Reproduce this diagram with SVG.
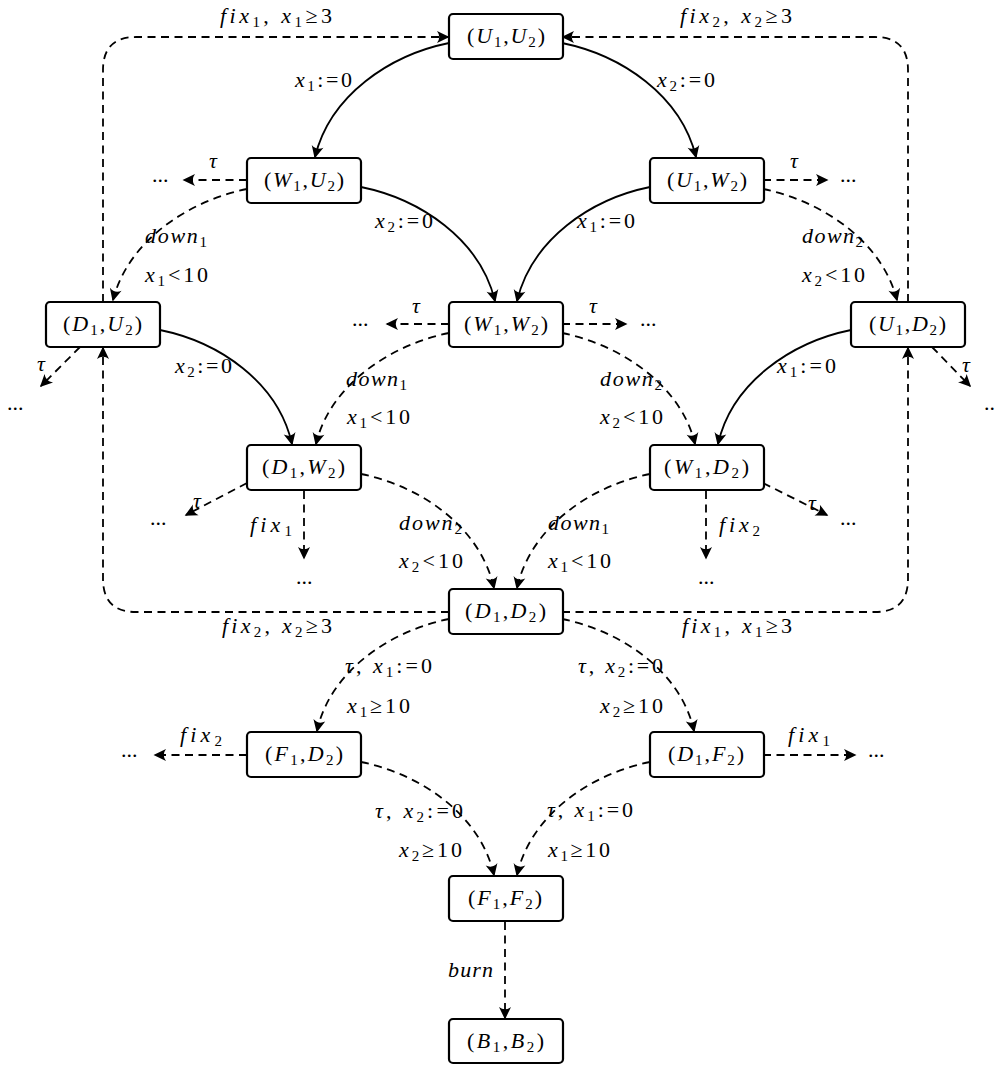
<svg xmlns="http://www.w3.org/2000/svg" width="995" height="1065" viewBox="0 0 995 1065" font-family="'Liberation Serif', 'DejaVu Serif', serif">
<style>
.e{fill:none;stroke:#000;stroke-width:1.8}
.d{stroke-dasharray:8 5.5}
.nd rect{fill:#fff;stroke:#000;stroke-width:2.2}
text{font-family:'Liberation Serif','DejaVu Serif',serif;font-size:22px;fill:#000}
.i{font-style:italic}
.sb{font-size:15px}
</style>
<defs>
<marker id="ah" viewBox="-13 -7 16 14" markerWidth="16" markerHeight="14" refX="0" refY="0" orient="auto" markerUnits="userSpaceOnUse"><path d="M1.5,0 L-11,-6 Q-6.5,0 -11,6 Z" fill="#000" stroke="none"/></marker>
</defs>
<rect width="995" height="1065" fill="#fff"/>
<g id="connectors">
<path class="e" d="M449,43 C390,55 330,95 315,157" marker-end="url(#ah)"/>
<path class="e" d="M562,43 C621,55 681,95 696,157" marker-end="url(#ah)"/>
<path class="e" d="M361,187 C420,199 480,239 495,301" marker-end="url(#ah)"/>
<path class="e" d="M650,187 C591,199 532,239 517,301" marker-end="url(#ah)"/>
<path class="e" d="M160,330 C219,342 278,382 292,444" marker-end="url(#ah)"/>
<path class="e" d="M851,330 C792,342 732,382 718,444" marker-end="url(#ah)"/>
<path class="e d" d="M247,189 C188,201 128,241 113,300" marker-end="url(#ah)"/>
<path class="e d" d="M763,189 C822,201 882,241 897,300" marker-end="url(#ah)"/>
<path class="e d" d="M449,333 C390,345 330,385 316,444" marker-end="url(#ah)"/>
<path class="e d" d="M562,333 C621,345 681,385 695,444" marker-end="url(#ah)"/>
<path class="e d" d="M361,474 C420,486 480,526 494,588" marker-end="url(#ah)"/>
<path class="e d" d="M650,474 C591,486 531,526 517,588" marker-end="url(#ah)"/>
<path class="e d" d="M449,619 C390,631 330,671 317,731" marker-end="url(#ah)"/>
<path class="e d" d="M562,619 C621,631 681,671 694,731" marker-end="url(#ah)"/>
<path class="e d" d="M361,762 C420,774 480,814 494,875" marker-end="url(#ah)"/>
<path class="e d" d="M650,762 C591,774 531,814 517,875" marker-end="url(#ah)"/>
<path class="e d" d="M505,922 L505,1018" marker-end="url(#ah)"/>
<path class="e d" d="M103,302 L103,70 Q103,37 136,37 L448,37" marker-end="url(#ah)"/>
<path class="e d" d="M908,302 L908,70 Q908,37 875,37 L563,37" marker-end="url(#ah)"/>
<path class="e d" d="M449,612 L136,612 Q103,612 103,579 L103,348" marker-end="url(#ah)"/>
<path class="e d" d="M562,612 L875,612 Q908,612 908,579 L908,348" marker-end="url(#ah)"/>
<path class="e d" d="M247,180 L184,180" marker-end="url(#ah)"/>
<path class="e d" d="M763,180 L827,180" marker-end="url(#ah)"/>
<path class="e d" d="M449,324 L387,324" marker-end="url(#ah)"/>
<path class="e d" d="M562,324 L626,324" marker-end="url(#ah)"/>
<path class="e d" d="M80,347 L41,386" marker-end="url(#ah)"/>
<path class="e d" d="M932,347 L970,386" marker-end="url(#ah)"/>
<path class="e d" d="M247,483 L186,515" marker-end="url(#ah)"/>
<path class="e d" d="M304,491 L304,558" marker-end="url(#ah)"/>
<path class="e d" d="M763,483 L827,515" marker-end="url(#ah)"/>
<path class="e d" d="M706,491 L706,558" marker-end="url(#ah)"/>
<path class="e d" d="M247,755 L155,755" marker-end="url(#ah)"/>
<path class="e d" d="M763,755 L855,755" marker-end="url(#ah)"/>
</g>
<g id="labels">
<text x="220" y="23" textLength="112"><tspan class="i">fix</tspan><tspan class="sb" dy="4">1</tspan><tspan dy="-4">, </tspan><tspan class="i">x</tspan><tspan class="sb" dy="4">1</tspan><tspan dy="-4">≥3</tspan></text>
<text x="680" y="23" textLength="112"><tspan class="i">fix</tspan><tspan class="sb" dy="4">2</tspan><tspan dy="-4">, </tspan><tspan class="i">x</tspan><tspan class="sb" dy="4">2</tspan><tspan dy="-4">≥3</tspan></text>
<text x="295" y="87" textLength="57"><tspan class="i">x</tspan><tspan class="sb" dy="4">1</tspan><tspan dy="-4">:=0</tspan></text>
<text x="657" y="87" textLength="58"><tspan class="i">x</tspan><tspan class="sb" dy="4">2</tspan><tspan dy="-4">:=0</tspan></text>
<text x="209" y="168" class="i">τ</text>
<text x="790" y="168" class="i">τ</text>
<text x="375" y="228" textLength="58"><tspan class="i">x</tspan><tspan class="sb" dy="4">2</tspan><tspan dy="-4">:=0</tspan></text>
<text x="577" y="228" textLength="58"><tspan class="i">x</tspan><tspan class="sb" dy="4">1</tspan><tspan dy="-4">:=0</tspan></text>
<text x="145" y="243" textLength="62"><tspan class="i">down</tspan><tspan class="sb" dy="4">1</tspan></text>
<text x="145" y="282" textLength="63"><tspan class="i">x</tspan><tspan class="sb" dy="4">1</tspan><tspan dy="-4">&lt;10</tspan></text>
<text x="802" y="243" textLength="61"><tspan class="i">down</tspan><tspan class="sb" dy="4">2</tspan></text>
<text x="802" y="282" textLength="63"><tspan class="i">x</tspan><tspan class="sb" dy="4">2</tspan><tspan dy="-4">&lt;10</tspan></text>
<text x="412" y="313" class="i">τ</text>
<text x="589" y="313" class="i">τ</text>
<text x="175" y="373" textLength="57"><tspan class="i">x</tspan><tspan class="sb" dy="4">2</tspan><tspan dy="-4">:=0</tspan></text>
<text x="777" y="373" textLength="59"><tspan class="i">x</tspan><tspan class="sb" dy="4">1</tspan><tspan dy="-4">:=0</tspan></text>
<text x="37" y="371" class="i">τ</text>
<text x="962" y="372" class="i">τ</text>
<text x="346" y="386" textLength="61"><tspan class="i">down</tspan><tspan class="sb" dy="4">1</tspan></text>
<text x="347" y="424" textLength="63"><tspan class="i">x</tspan><tspan class="sb" dy="4">1</tspan><tspan dy="-4">&lt;10</tspan></text>
<text x="600" y="386" textLength="62"><tspan class="i">down</tspan><tspan class="sb" dy="4">2</tspan></text>
<text x="600" y="424" textLength="63"><tspan class="i">x</tspan><tspan class="sb" dy="4">2</tspan><tspan dy="-4">&lt;10</tspan></text>
<text x="193" y="508" class="i">τ</text>
<text x="250" y="532" textLength="42"><tspan class="i">fix</tspan><tspan class="sb" dy="4">1</tspan></text>
<text x="399" y="530" textLength="63"><tspan class="i">down</tspan><tspan class="sb" dy="4">2</tspan></text>
<text x="399" y="568" textLength="64"><tspan class="i">x</tspan><tspan class="sb" dy="4">2</tspan><tspan dy="-4">&lt;10</tspan></text>
<text x="548" y="530" textLength="61"><tspan class="i">down</tspan><tspan class="sb" dy="4">1</tspan></text>
<text x="548" y="568" textLength="63"><tspan class="i">x</tspan><tspan class="sb" dy="4">1</tspan><tspan dy="-4">&lt;10</tspan></text>
<text x="719" y="532" textLength="41"><tspan class="i">fix</tspan><tspan class="sb" dy="4">2</tspan></text>
<text x="808" y="510" class="i">τ</text>
<text x="222" y="633" textLength="110"><tspan class="i">fix</tspan><tspan class="sb" dy="4">2</tspan><tspan dy="-4">, </tspan><tspan class="i">x</tspan><tspan class="sb" dy="4">2</tspan><tspan dy="-4">≥3</tspan></text>
<text x="682" y="633" textLength="110"><tspan class="i">fix</tspan><tspan class="sb" dy="4">1</tspan><tspan dy="-4">, </tspan><tspan class="i">x</tspan><tspan class="sb" dy="4">1</tspan><tspan dy="-4">≥3</tspan></text>
<text x="345" y="673" textLength="87"><tspan class="i">τ</tspan><tspan>, </tspan><tspan class="i">x</tspan><tspan class="sb" dy="4">1</tspan><tspan dy="-4">:=0</tspan></text>
<text x="347" y="713" textLength="63"><tspan class="i">x</tspan><tspan class="sb" dy="4">1</tspan><tspan dy="-4">≥10</tspan></text>
<text x="578" y="673" textLength="85"><tspan class="i">τ</tspan><tspan>, </tspan><tspan class="i">x</tspan><tspan class="sb" dy="4">2</tspan><tspan dy="-4">:=0</tspan></text>
<text x="600" y="713" textLength="63"><tspan class="i">x</tspan><tspan class="sb" dy="4">2</tspan><tspan dy="-4">≥10</tspan></text>
<text x="180" y="742" textLength="42"><tspan class="i">fix</tspan><tspan class="sb" dy="4">2</tspan></text>
<text x="788" y="742" textLength="42"><tspan class="i">fix</tspan><tspan class="sb" dy="4">1</tspan></text>
<text x="375" y="818" textLength="88"><tspan class="i">τ</tspan><tspan>, </tspan><tspan class="i">x</tspan><tspan class="sb" dy="4">2</tspan><tspan dy="-4">:=0</tspan></text>
<text x="399" y="857" textLength="63"><tspan class="i">x</tspan><tspan class="sb" dy="4">2</tspan><tspan dy="-4">≥10</tspan></text>
<text x="547" y="817" textLength="86"><tspan class="i">τ</tspan><tspan>, </tspan><tspan class="i">x</tspan><tspan class="sb" dy="4">1</tspan><tspan dy="-4">:=0</tspan></text>
<text x="548" y="857" textLength="62"><tspan class="i">x</tspan><tspan class="sb" dy="4">1</tspan><tspan dy="-4">≥10</tspan></text>
<text x="448" y="977" textLength="45" class="i">burn</text>
<text x="152" y="182">...</text>
<text x="840" y="182">...</text>
<text x="352" y="326">...</text>
<text x="640" y="326">...</text>
<text x="7" y="410">...</text>
<text x="984" y="410">...</text>
<text x="150" y="525">...</text>
<text x="296" y="584">...</text>
<text x="840" y="525">...</text>
<text x="698" y="584">...</text>
<text x="121" y="757">...</text>
<text x="868" y="757">...</text>
</g>
<g id="n-U1U2" class="nd"><rect x="449" y="14" width="114" height="45" rx="4"/><text x="467" y="43" textLength="78">(<tspan class="i">U</tspan><tspan class="sb" dy="4">1</tspan><tspan dy="-4">,</tspan><tspan class="i">U</tspan><tspan class="sb" dy="4">2</tspan><tspan dy="-4">)</tspan></text></g>
<g id="n-W1U2" class="nd"><rect x="247" y="158" width="114" height="45" rx="4"/><text x="264" y="187" textLength="80">(<tspan class="i">W</tspan><tspan class="sb" dy="4">1</tspan><tspan dy="-4">,</tspan><tspan class="i">U</tspan><tspan class="sb" dy="4">2</tspan><tspan dy="-4">)</tspan></text></g>
<g id="n-U1W2" class="nd"><rect x="650" y="158" width="114" height="45" rx="4"/><text x="667" y="187" textLength="80">(<tspan class="i">U</tspan><tspan class="sb" dy="4">1</tspan><tspan dy="-4">,</tspan><tspan class="i">W</tspan><tspan class="sb" dy="4">2</tspan><tspan dy="-4">)</tspan></text></g>
<g id="n-D1U2" class="nd"><rect x="46" y="302" width="114" height="45" rx="4"/><text x="63" y="331" textLength="79">(<tspan class="i">D</tspan><tspan class="sb" dy="4">1</tspan><tspan dy="-4">,</tspan><tspan class="i">U</tspan><tspan class="sb" dy="4">2</tspan><tspan dy="-4">)</tspan></text></g>
<g id="n-W1W2" class="nd"><rect x="449" y="302" width="114" height="45" rx="4"/><text x="464" y="331" textLength="84">(<tspan class="i">W</tspan><tspan class="sb" dy="4">1</tspan><tspan dy="-4">,</tspan><tspan class="i">W</tspan><tspan class="sb" dy="4">2</tspan><tspan dy="-4">)</tspan></text></g>
<g id="n-U1D2" class="nd"><rect x="851" y="302" width="114" height="45" rx="4"/><text x="869" y="331" textLength="77">(<tspan class="i">U</tspan><tspan class="sb" dy="4">1</tspan><tspan dy="-4">,</tspan><tspan class="i">D</tspan><tspan class="sb" dy="4">2</tspan><tspan dy="-4">)</tspan></text></g>
<g id="n-D1W2" class="nd"><rect x="247" y="445" width="114" height="45" rx="4"/><text x="262" y="474" textLength="83">(<tspan class="i">D</tspan><tspan class="sb" dy="4">1</tspan><tspan dy="-4">,</tspan><tspan class="i">W</tspan><tspan class="sb" dy="4">2</tspan><tspan dy="-4">)</tspan></text></g>
<g id="n-W1D2" class="nd"><rect x="650" y="445" width="114" height="45" rx="4"/><text x="664" y="474" textLength="85">(<tspan class="i">W</tspan><tspan class="sb" dy="4">1</tspan><tspan dy="-4">,</tspan><tspan class="i">D</tspan><tspan class="sb" dy="4">2</tspan><tspan dy="-4">)</tspan></text></g>
<g id="n-D1D2" class="nd"><rect x="449" y="589" width="114" height="45" rx="4"/><text x="465" y="618" textLength="81">(<tspan class="i">D</tspan><tspan class="sb" dy="4">1</tspan><tspan dy="-4">,</tspan><tspan class="i">D</tspan><tspan class="sb" dy="4">2</tspan><tspan dy="-4">)</tspan></text></g>
<g id="n-F1D2" class="nd"><rect x="247" y="732" width="114" height="45" rx="4"/><text x="265" y="761" textLength="78">(<tspan class="i">F</tspan><tspan class="sb" dy="4">1</tspan><tspan dy="-4">,</tspan><tspan class="i">D</tspan><tspan class="sb" dy="4">2</tspan><tspan dy="-4">)</tspan></text></g>
<g id="n-D1F2" class="nd"><rect x="650" y="732" width="114" height="45" rx="4"/><text x="668" y="761" textLength="76">(<tspan class="i">D</tspan><tspan class="sb" dy="4">1</tspan><tspan dy="-4">,</tspan><tspan class="i">F</tspan><tspan class="sb" dy="4">2</tspan><tspan dy="-4">)</tspan></text></g>
<g id="n-F1F2" class="nd"><rect x="449" y="876" width="114" height="45" rx="4"/><text x="468" y="905" textLength="74">(<tspan class="i">F</tspan><tspan class="sb" dy="4">1</tspan><tspan dy="-4">,</tspan><tspan class="i">F</tspan><tspan class="sb" dy="4">2</tspan><tspan dy="-4">)</tspan></text></g>
<g id="n-B1B2" class="nd"><rect x="449" y="1019" width="114" height="44" rx="4"/><text x="467" y="1048" textLength="77">(<tspan class="i">B</tspan><tspan class="sb" dy="4">1</tspan><tspan dy="-4">,</tspan><tspan class="i">B</tspan><tspan class="sb" dy="4">2</tspan><tspan dy="-4">)</tspan></text></g>
</svg>
